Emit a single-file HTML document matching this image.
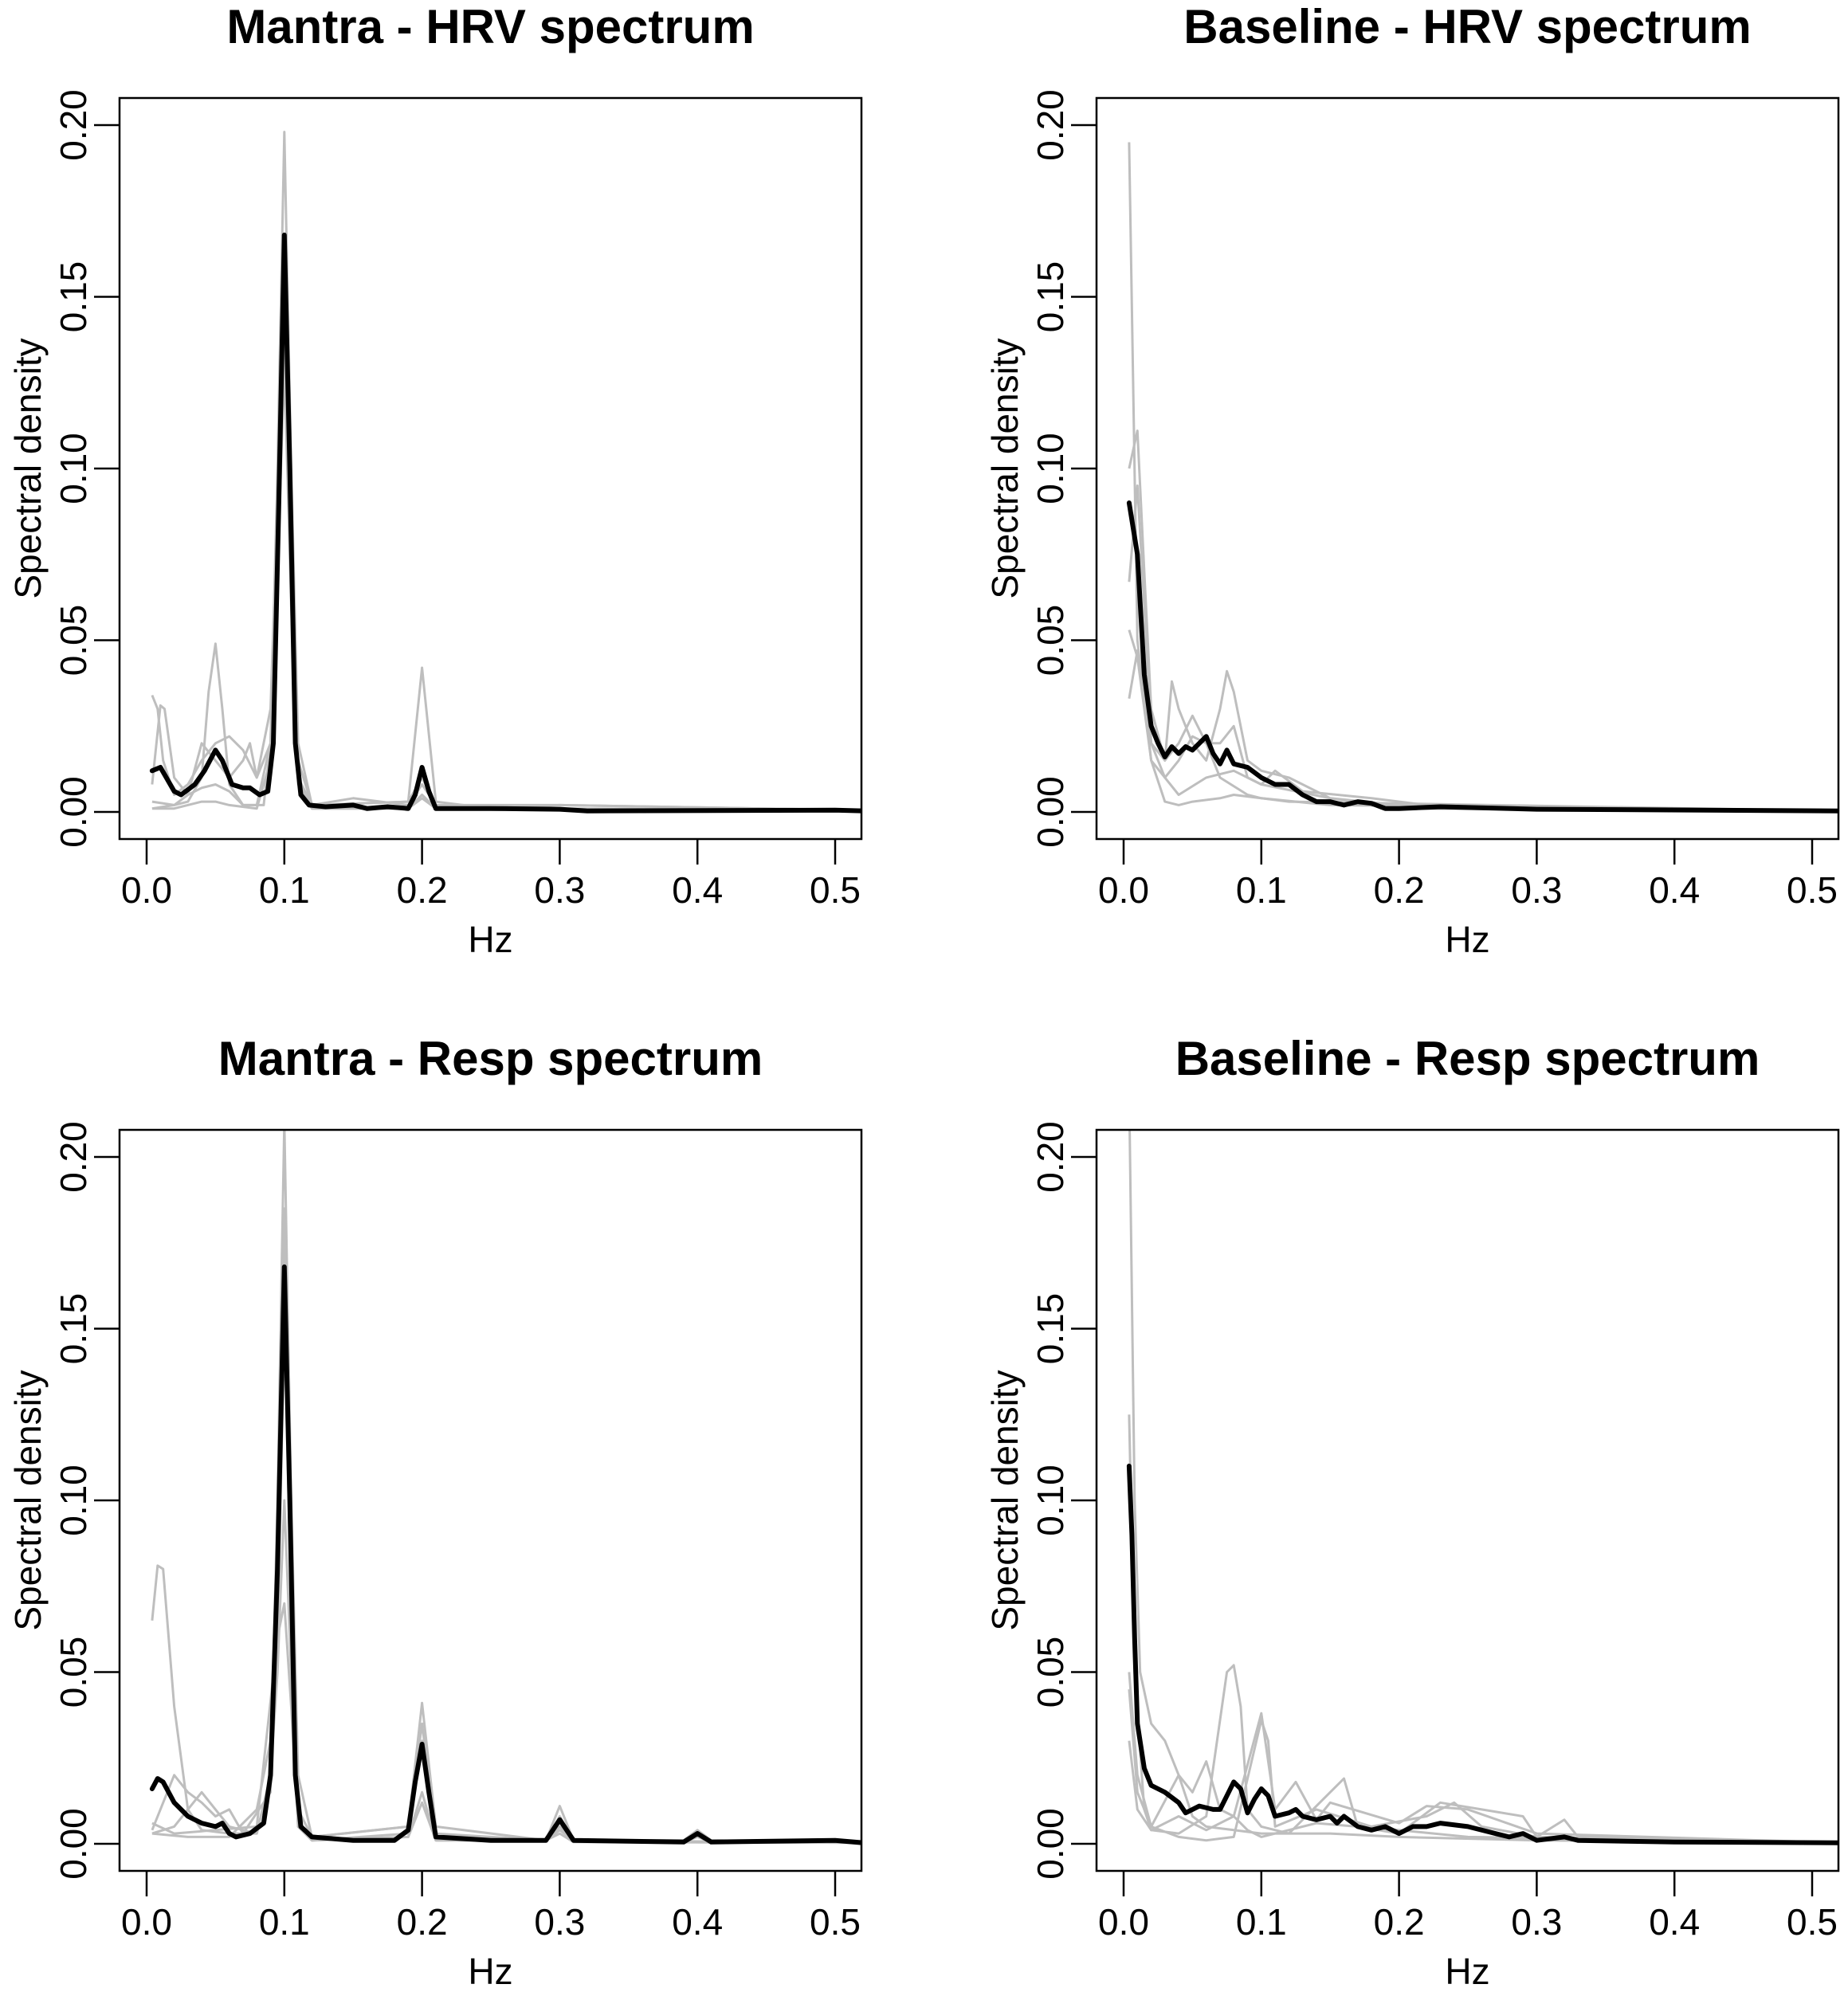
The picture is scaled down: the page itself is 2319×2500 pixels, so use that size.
<!DOCTYPE html>
<html><head><meta charset="utf-8"><style>
html,body{margin:0;padding:0;background:#fff;}
svg{display:block;font-family:"Liberation Sans",Arial,sans-serif;}
</style></head><body>
<svg id="fig" width="2319" height="2500" viewBox="0 0 2319 2500"></svg>
<script>
// ---- data ----
const xTicks = [0, 0.1, 0.2, 0.3, 0.4, 0.5];
const xTickLabels = ["0.0", "0.1", "0.2", "0.3", "0.4", "0.5"];
const yTicks = [0, 0.05, 0.10, 0.15, 0.20];
const yTickLabels = ["0.00", "0.05", "0.10", "0.15", "0.20"];
const panelTitles = ["Mantra - HRV spectrum", "Baseline - HRV spectrum", "Mantra - Resp spectrum", "Baseline - Resp spectrum"];

// Panel A: Mantra HRV
const aMeanF = [0.004,0.01,0.02,0.025,0.035,0.042,0.05,0.055,0.062,0.07,0.075,0.082,0.088,0.092,0.096,0.1,0.104,0.108,0.112,0.118,0.13,0.15,0.16,0.175,0.19,0.195,0.2,0.205,0.21,0.25,0.3,0.32,0.5,0.52];
const aMeanV = [0.012,0.013,0.006,0.005,0.008,0.012,0.018,0.015,0.008,0.007,0.007,0.005,0.006,0.02,0.09,0.168,0.1,0.02,0.005,0.002,0.0015,0.002,0.001,0.0015,0.001,0.005,0.013,0.006,0.001,0.001,0.0008,0.0003,0.0005,0.0003];
const aG1F = [0.004,0.02,0.03,0.04,0.045,0.05,0.055,0.06,0.07,0.085,0.09,0.095,0.1,0.105,0.11,0.12,0.19,0.2,0.21,0.25,0.3,0.52];
const aG1V = [0.003,0.002,0.003,0.01,0.035,0.049,0.03,0.008,0.002,0.002,0.02,0.1,0.198,0.1,0.02,0.002,0.003,0.042,0.003,0.001,0.002,0.0005];
const aG2F = [0.004,0.008,0.012,0.02,0.03,0.04,0.05,0.06,0.07,0.08,0.09,0.095,0.1,0.105,0.11,0.12,0.19,0.2,0.21,0.3,0.52];
const aG2V = [0.034,0.03,0.015,0.005,0.008,0.015,0.02,0.022,0.018,0.01,0.03,0.09,0.16,0.08,0.015,0.002,0.003,0.01,0.002,0.001,0.0005];
const aG3F = [0.004,0.01,0.013,0.02,0.03,0.04,0.05,0.06,0.07,0.075,0.08,0.09,0.095,0.1,0.105,0.11,0.12,0.15,0.19,0.2,0.21,0.3,0.52];
const aG3V = [0.008,0.031,0.03,0.01,0.005,0.02,0.015,0.01,0.015,0.02,0.01,0.02,0.08,0.15,0.07,0.01,0.002,0.004,0.002,0.008,0.002,0.002,0.0005];
const aG4F = [0.004,0.02,0.03,0.04,0.05,0.06,0.07,0.08,0.09,0.095,0.1,0.105,0.11,0.12,0.19,0.2,0.21,0.52];
const aG4V = [0.001,0.002,0.005,0.007,0.008,0.006,0.002,0.002,0.02,0.08,0.14,0.07,0.01,0.001,0.001,0.005,0.001,0.0003];
const aG5F = [0.004,0.02,0.04,0.05,0.06,0.08,0.09,0.095,0.1,0.105,0.11,0.12,0.19,0.2,0.21,0.52];
const aG5V = [0.001,0.001,0.003,0.003,0.002,0.001,0.015,0.07,0.13,0.06,0.008,0.001,0.001,0.004,0.001,0.0003];

// Panel B: Baseline HRV
const bMeanF = [0.004,0.01,0.015,0.02,0.025,0.03,0.035,0.04,0.045,0.05,0.06,0.065,0.07,0.075,0.08,0.09,0.1,0.11,0.12,0.13,0.14,0.15,0.16,0.17,0.18,0.19,0.2,0.23,0.3,0.52];
const bMeanV = [0.09,0.075,0.04,0.025,0.02,0.016,0.019,0.017,0.019,0.018,0.022,0.017,0.014,0.018,0.014,0.013,0.01,0.008,0.008,0.005,0.003,0.003,0.002,0.003,0.0025,0.001,0.001,0.0015,0.0008,0.0003];
const bG1F = [0.004,0.01,0.02,0.03,0.04,0.06,0.08,0.1,0.15,0.2,0.52];
const bG1V = [0.195,0.05,0.015,0.01,0.005,0.01,0.012,0.008,0.004,0.001,0.0003];
const bG2F = [0.004,0.01,0.015,0.02,0.03,0.035,0.04,0.05,0.06,0.07,0.075,0.08,0.09,0.1,0.12,0.15,0.2,0.52];
const bG2V = [0.1,0.111,0.07,0.03,0.015,0.038,0.03,0.02,0.015,0.03,0.041,0.035,0.015,0.012,0.01,0.004,0.002,0.0003];
const bG3F = [0.004,0.01,0.015,0.02,0.03,0.04,0.05,0.06,0.07,0.08,0.09,0.1,0.11,0.13,0.18,0.22,0.3,0.52];
const bG3V = [0.067,0.095,0.06,0.02,0.015,0.02,0.028,0.02,0.02,0.025,0.01,0.008,0.012,0.006,0.004,0.002,0.001,0.0003];
const bG4F = [0.004,0.01,0.02,0.03,0.04,0.05,0.07,0.08,0.1,0.15,0.52];
const bG4V = [0.053,0.045,0.015,0.003,0.002,0.003,0.004,0.005,0.004,0.002,0.0003];
const bG5F = [0.004,0.01,0.02,0.03,0.04,0.05,0.06,0.07,0.09,0.1,0.12,0.52];
const bG5V = [0.033,0.047,0.02,0.01,0.015,0.022,0.02,0.01,0.005,0.004,0.003,0.0003];

// Panel C: Mantra Resp
const cMeanF = [0.004,0.008,0.012,0.02,0.03,0.04,0.05,0.055,0.06,0.065,0.075,0.085,0.09,0.095,0.1,0.104,0.108,0.112,0.12,0.15,0.18,0.19,0.195,0.2,0.205,0.21,0.25,0.29,0.3,0.31,0.39,0.4,0.41,0.5,0.52];
const cMeanV = [0.016,0.019,0.018,0.012,0.008,0.006,0.005,0.006,0.003,0.002,0.003,0.006,0.02,0.08,0.168,0.1,0.02,0.005,0.002,0.001,0.001,0.004,0.018,0.029,0.015,0.002,0.001,0.001,0.007,0.001,0.0005,0.003,0.0005,0.001,0.0003];
const cG1F = [0.004,0.008,0.012,0.02,0.03,0.04,0.06,0.08,0.09,0.095,0.1,0.105,0.11,0.12,0.19,0.2,0.21,0.29,0.3,0.31,0.39,0.4,0.41,0.52];
const cG1V = [0.065,0.081,0.08,0.04,0.01,0.004,0.003,0.003,0.02,0.1,0.21,0.1,0.02,0.002,0.005,0.041,0.005,0.001,0.011,0.001,0.001,0.004,0.001,0.0003];
const cG2F = [0.004,0.02,0.03,0.04,0.05,0.06,0.07,0.09,0.095,0.1,0.105,0.11,0.12,0.19,0.2,0.21,0.29,0.3,0.31,0.39,0.4,0.41,0.52];
const cG2V = [0.004,0.02,0.015,0.012,0.008,0.01,0.003,0.015,0.09,0.185,0.09,0.01,0.002,0.005,0.035,0.003,0.001,0.008,0.001,0.001,0.003,0.001,0.0003];
const cG3F = [0.004,0.02,0.04,0.05,0.06,0.08,0.09,0.095,0.1,0.105,0.11,0.12,0.19,0.2,0.21,0.29,0.3,0.31,0.52];
const cG3V = [0.003,0.005,0.015,0.01,0.005,0.003,0.02,0.05,0.1,0.05,0.005,0.001,0.003,0.03,0.002,0.001,0.004,0.001,0.0003];
const cG4F = [0.004,0.03,0.06,0.08,0.09,0.095,0.1,0.105,0.11,0.12,0.19,0.2,0.21,0.29,0.3,0.31,0.52];
const cG4V = [0.003,0.002,0.002,0.01,0.03,0.06,0.07,0.04,0.005,0.001,0.002,0.015,0.001,0.001,0.003,0.0005,0.0003];
const cG5F = [0.004,0.02,0.05,0.08,0.095,0.1,0.105,0.11,0.12,0.19,0.2,0.21,0.29,0.3,0.31,0.39,0.4,0.41,0.52];
const cG5V = [0.006,0.003,0.004,0.005,0.06,0.15,0.07,0.005,0.001,0.002,0.012,0.001,0.001,0.005,0.001,0.0005,0.002,0.0005,0.0003];

// Panel D: Baseline Resp
const dMeanF = [0.004,0.006,0.008,0.01,0.015,0.02,0.025,0.03,0.04,0.045,0.05,0.055,0.065,0.07,0.075,0.08,0.085,0.09,0.095,0.1,0.105,0.11,0.12,0.125,0.13,0.14,0.15,0.155,0.16,0.17,0.18,0.19,0.2,0.21,0.22,0.23,0.25,0.27,0.28,0.29,0.3,0.32,0.33,0.4,0.52];
const dMeanV = [0.11,0.09,0.06,0.035,0.022,0.017,0.016,0.015,0.012,0.009,0.01,0.011,0.01,0.01,0.014,0.018,0.016,0.009,0.013,0.016,0.014,0.008,0.009,0.01,0.008,0.007,0.008,0.006,0.008,0.005,0.004,0.005,0.003,0.005,0.005,0.006,0.005,0.003,0.002,0.003,0.001,0.002,0.001,0.0005,0.0003];
const dG1F = [0.004,0.008,0.012,0.02,0.03,0.04,0.05,0.06,0.08,0.1,0.15,0.2,0.3,0.52];
const dG1V = [0.22,0.1,0.05,0.035,0.03,0.02,0.008,0.005,0.004,0.003,0.003,0.002,0.001,0.0003];
const dG2F = [0.004,0.008,0.015,0.02,0.04,0.06,0.075,0.08,0.085,0.09,0.1,0.12,0.16,0.17,0.2,0.23,0.26,0.29,0.3,0.32,0.33,0.52];
const dG2V = [0.125,0.05,0.01,0.004,0.003,0.008,0.05,0.052,0.04,0.01,0.005,0.003,0.019,0.005,0.003,0.012,0.01,0.008,0.002,0.007,0.002,0.0003];
const dG3F = [0.004,0.01,0.02,0.04,0.05,0.06,0.07,0.08,0.1,0.11,0.125,0.14,0.15,0.2,0.22,0.25,0.3,0.52];
const dG3V = [0.05,0.02,0.005,0.02,0.015,0.024,0.01,0.008,0.038,0.01,0.018,0.007,0.012,0.006,0.011,0.01,0.003,0.0003];
const dG4F = [0.004,0.01,0.02,0.04,0.06,0.08,0.1,0.105,0.11,0.14,0.18,0.22,0.24,0.26,0.3,0.52];
const dG4V = [0.045,0.015,0.005,0.002,0.001,0.002,0.036,0.03,0.005,0.01,0.005,0.008,0.012,0.005,0.002,0.0003];
const dG5F = [0.004,0.01,0.02,0.04,0.06,0.08,0.09,0.1,0.14,0.2,0.25,0.52];
const dG5V = [0.03,0.01,0.004,0.008,0.004,0.008,0.004,0.002,0.006,0.004,0.002,0.0003];

const panels = [
  {grey:[[aG1F,aG1V],[aG2F,aG2V],[aG3F,aG3V],[aG4F,aG4V],[aG5F,aG5V]], mean:[aMeanF,aMeanV]},
  {grey:[[bG1F,bG1V],[bG2F,bG2V],[bG3F,bG3V],[bG4F,bG4V],[bG5F,bG5V]], mean:[bMeanF,bMeanV]},
  {grey:[[cG1F,cG1V],[cG2F,cG2V],[cG3F,cG3V],[cG4F,cG4V],[cG5F,cG5V]], mean:[cMeanF,cMeanV]},
  {grey:[[dG1F,dG1V],[dG2F,dG2V],[dG3F,dG3V],[dG4F,dG4V],[dG5F,dG5V]], mean:[dMeanF,dMeanV]}
];

// ---- drawing ----
const NS = "http://www.w3.org/2000/svg";
const svg = document.getElementById("fig");
function mk(tag, attrs, parent){
  const e = document.createElementNS(NS, tag);
  for (const k in attrs) e.setAttribute(k, attrs[k]);
  (parent||svg).appendChild(e);
  return e;
}
const BOX_L=150, BOX_R=1081, BOX_T=123, BOX_B=1053;
const X0=184, XS=1728;
const Y0=1019, YS=4310;
const offsets=[[0,0],[1226,0],[0,1295],[1226,1295]];
const names=["mantra-hrv","baseline-hrv","mantra-resp","baseline-resp"];

panels.forEach((p,i)=>{
  const [dx,dy]=offsets[i];
  const sx = f => dx + X0 + f*XS;
  const sy = v => dy + Y0 - v*YS;
  const g = mk("g",{});
  
  

  const t = mk("text",{x:dx+(BOX_L+BOX_R)/2, y:dy+54, "text-anchor":"middle","font-size":60,"font-weight":"bold",fill:"#000"},g);
  t.textContent = panelTitles[i];
  
  

  const clipId="clip"+i;
  const cp = mk("clipPath",{id:clipId},g);
  mk("rect",{x:dx+BOX_L,y:dy+BOX_T,width:BOX_R-BOX_L,height:BOX_B-BOX_T},cp);

  const lines = mk("g",{"clip-path":"url(#"+clipId+")"},g);
  p.grey.forEach((s,k)=>{
    const d = s[0].map((f,j)=>(j?"L":"M")+sx(f).toFixed(1)+","+sy(s[1][j]).toFixed(1)).join("");
    const pa = mk("path",{d:d,fill:"none",stroke:"#bebebe","stroke-width":3,"stroke-linejoin":"round"},lines);
    
    
  });
  const m=p.mean;
  const dm = m[0].map((f,j)=>(j?"L":"M")+sx(f).toFixed(1)+","+sy(m[1][j]).toFixed(1)).join("");
  const mp = mk("path",{d:dm,fill:"none",stroke:"#000","stroke-width":6,"stroke-linejoin":"round","stroke-linecap":"round"},lines);
  
  

  const box = mk("rect",{x:dx+BOX_L,y:dy+BOX_T,width:BOX_R-BOX_L,height:BOX_B-BOX_T,fill:"none",stroke:"#000","stroke-width":2.5},g);
  
  

  xTicks.forEach((v,k)=>{
    mk("line",{x1:sx(v),x2:sx(v),y1:dy+BOX_B,y2:dy+BOX_B+32,stroke:"#000","stroke-width":2.5},g);
    const tl = mk("text",{x:sx(v),y:dy+1133,"text-anchor":"middle","font-size":46,fill:"#000"},g);
    tl.textContent = xTickLabels[k];
    
    
  });
  yTicks.forEach((v,k)=>{
    mk("line",{x1:dx+BOX_L,x2:dx+BOX_L-32,y1:sy(v),y2:sy(v),stroke:"#000","stroke-width":2.5},g);
    const yy=sy(v);
    const tl = mk("text",{x:dx+108,y:yy,"text-anchor":"middle","font-size":46,fill:"#000",transform:"rotate(-90 "+(dx+108)+" "+yy+")"},g);
    tl.textContent = yTickLabels[k];
    
    
  });
  const xl = mk("text",{x:dx+(BOX_L+BOX_R)/2,y:dy+1195,"text-anchor":"middle","font-size":46,fill:"#000"},g);
  xl.textContent="Hz";
  
  
  const cy = dy+(BOX_T+BOX_B)/2;
  const yl = mk("text",{x:dx+51,y:cy,"text-anchor":"middle","font-size":46,fill:"#000",transform:"rotate(-90 "+(dx+51)+" "+cy+")"},g);
  yl.textContent="Spectral density";
  
  
});
</script>
</body></html>
